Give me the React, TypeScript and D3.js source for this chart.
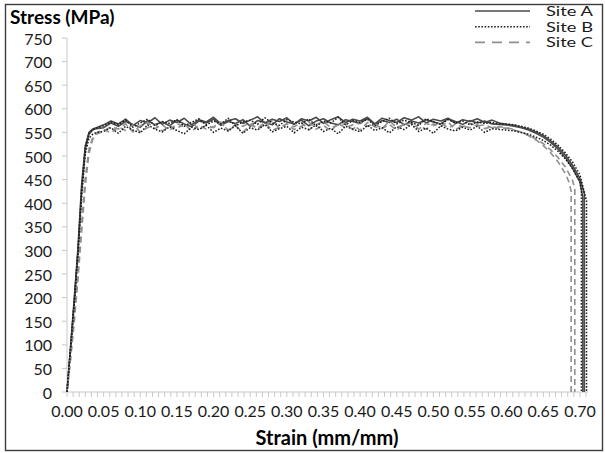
import React from "react";
import * as d3 from "d3";

const strainGrid = [
  0, 0.005, 0.01, 0.015, 0.02, 0.025, 0.03, 0.035, 0.04,
  0.05, 0.06, 0.07, 0.08, 0.09, 0.1, 0.11, 0.12, 0.13, 0.14,
  0.15, 0.16, 0.17, 0.18, 0.19, 0.2, 0.21, 0.22, 0.23, 0.24,
  0.25, 0.26, 0.27, 0.28, 0.29, 0.3, 0.31, 0.32, 0.33, 0.34,
  0.35, 0.36, 0.37, 0.38, 0.39, 0.4, 0.41, 0.42, 0.43, 0.44,
  0.45, 0.46, 0.47, 0.48, 0.49, 0.5, 0.51, 0.52, 0.53, 0.54,
  0.55, 0.56, 0.57, 0.58, 0.59,
  0.6, 0.61, 0.62, 0.63, 0.64, 0.65, 0.66, 0.67, 0.68,
];

const stressA1 = [
  0, 98, 200, 305, 440, 522, 550, 557, 560,
  566, 574, 568, 578, 565, 575, 570, 581, 567, 576,
  571, 580, 566, 577, 572, 582, 568, 575, 579, 569,
  576, 583, 570, 578, 573, 581, 567, 579, 574, 582,
  569, 577, 583, 571, 578, 574, 582, 568, 580, 575,
  571, 581, 576, 583, 570, 578, 574, 580, 569, 577,
  573, 579, 571, 576, 570,
  567, 565, 561, 557, 551, 543, 532, 519, 502,
];
const tailStrainA1 = [0.69, 0.7, 0.706, 0.706];
const tailStressA1 = [480, 452, 420, 0];

const stressA2 = [
  0, 95, 192, 298, 425, 515, 546, 555, 558,
  560, 570, 563, 573, 567, 561, 575, 566, 572, 564,
  576, 568, 562, 574, 570, 578, 565, 573, 569, 577,
  563, 575, 571, 566, 579, 572, 568, 576, 564, 574,
  579, 570, 566, 577, 573, 569, 580, 567, 575, 571,
  578, 566, 574, 570, 577, 572, 568, 579, 573, 567,
  575, 570, 574, 568, 567,
  566, 563, 560, 555, 548, 540, 529, 515, 497,
];
const tailStrainA2 = [0.69, 0.7, 0.704, 0.704];
const tailStressA2 = [474, 445, 412, 0];

const stressB1 = [
  0, 92, 186, 290, 415, 505, 538, 546, 550,
  552, 560, 548, 563, 555, 549, 566, 557, 551, 562,
  554, 547, 561, 556, 565, 550, 559, 553, 564, 548,
  560, 555, 567, 551, 558, 563, 549, 561, 556, 566,
  552, 559, 547, 563, 557, 551, 565, 554, 560, 549,
  562, 556, 567, 552, 559, 548, 564, 557, 553, 561,
  555, 563, 550, 558, 556,
  555, 553, 550, 546, 540, 533, 523, 510, 494,
];
const tailStrainB1 = [0.69, 0.7, 0.702, 0.702];
const tailStressB1 = [473, 445, 425, 0];

const stressB2 = [
  0, 96, 195, 300, 432, 518, 548, 556, 559,
  564, 572, 567, 576, 561, 570, 578, 565, 573, 569,
  577, 563, 571, 579, 566, 574, 568, 580, 564, 572,
  576, 567, 581, 570, 565, 577, 572, 568, 579, 563,
  574, 570, 582, 566, 575, 571, 578, 564, 573, 580,
  568, 576, 571, 565, 579, 573, 567, 577, 570, 574,
  566, 572, 569, 571, 568,
  568, 566, 563, 559, 553, 546, 536, 523, 507,
];
const tailStrainB2 = [0.69, 0.7, 0.709, 0.709];
const tailStressB2 = [487, 460, 405, 0];

const stressC1 = [
  0, 72, 150, 240, 340, 438, 505, 535, 546,
  553, 562, 557, 568, 551, 564, 571, 558, 566, 554,
  569, 561, 573, 556, 565, 560, 572, 554, 567, 563,
  570, 557, 566, 574, 559, 568, 562, 571, 555, 567,
  573, 560, 565, 569, 556, 572, 563, 568, 558, 574,
  561, 566, 570, 557, 569, 564, 572, 559, 567, 562,
  569, 564, 566, 560, 562,
  560, 556, 550, 543, 534, 522, 507, 488, 463,
];
const tailStrainC1 = [0.685, 0.688, 0.688];
const tailStressC1 = [445, 425, 0];

const stressC2 = [
  0, 75, 158, 252, 358, 455, 515, 538, 549,
  556, 549, 562, 554, 566, 551, 560, 567, 553, 563,
  558, 569, 552, 565, 557, 562, 570, 555, 564, 550,
  566, 559, 571, 554, 561, 568, 556, 563, 572, 557,
  565, 553, 569, 560, 566, 555, 571, 562, 558, 567,
  554, 570, 561, 565, 557, 568, 563, 572, 556, 564,
  560, 566, 558, 562, 559,
  559, 555, 550, 544, 536, 526, 513, 497, 477,
];
const tailStrainC2 = [0.69, 0.693, 0.693];
const tailStressC2 = [448, 430, 0];

const siteNames = ["Site A", "Site B", "Site C"];
const yTicks = [0, 50, 100, 150, 200, 250, 300, 350, 400, 450, 500, 550, 600, 650, 700, 750];
const xTickLabels = [0, 0.05, 0.1, 0.15, 0.2, 0.25, 0.3, 0.35, 0.4, 0.45, 0.5, 0.55, 0.6, 0.65, 0.7];

const specimens = [
  { site: 0, stress: stressA2, ts: tailStrainA2, tv: tailStressA2 },
  { site: 0, stress: stressA1, ts: tailStrainA1, tv: tailStressA1 },
  { site: 2, stress: stressC1, ts: tailStrainC1, tv: tailStressC1 },
  { site: 2, stress: stressC2, ts: tailStrainC2, tv: tailStressC2 },
  { site: 1, stress: stressB1, ts: tailStrainB1, tv: tailStressB1 },
  { site: 1, stress: stressB2, ts: tailStrainB2, tv: tailStressB2 },
];

const styles = [
  { stroke: "#4a4a4a", dash: "none", width: 1.6 },
  { stroke: "#1e1e1e", dash: "1.6,1.6", width: 1.5 },
  { stroke: "#8f8f8f", dash: "6,4", width: 1.6 },
];

const FONT = "Lato, 'Open Sans', sans-serif";

export default function App() {
  const x = d3.scaleLinear().domain([0, 0.711]).range([67, 588]);
  const y = d3.scaleLinear().domain([0, 750]).range([392, 38]);
  const line = d3
    .line<[number, number]>()
    .x((d) => x(d[0]))
    .y((d) => y(d[1]));

  const minorTicks = d3.range(0, 86).map((i) => (i * 0.05) / 6).filter((v) => v <= 0.7115);

  return (
    <svg
      width={605}
      height={453}
      style={{ position: "absolute", left: 0, top: 0, background: "#fff" }}
      fontFamily={FONT}
    >
      <rect x={5.5} y={4.5} width={597} height={446} fill="#fff" stroke="#3c3c3c" strokeWidth={1.4} />

      {/* axes */}
      <line x1={x(0)} x2={x(0)} y1={y(750)} y2={y(0)} stroke="#c8c8c8" strokeWidth={1} />
      <line x1={x(0)} x2={x(0.711)} y1={y(0)} y2={y(0)} stroke="#c8c8c8" strokeWidth={1} />
      {yTicks.map((t) => (
        <g key={"y" + t}>
          <line x1={x(0) - 5} x2={x(0)} y1={y(t)} y2={y(t)} stroke="#c8c8c8" />
          <text x={52} y={y(t)} textAnchor="end" dominantBaseline="central" fontSize={16} fill="#1a1a1a">
            {t}
          </text>
        </g>
      ))}
      {minorTicks.map((t, i) => (
        <line key={"m" + i} x1={x(t)} x2={x(t)} y1={y(0)} y2={y(0) + 5} stroke="#c8c8c8" />
      ))}
      {xTickLabels.map((t) => (
        <text key={"x" + t} x={x(t)} y={410} textAnchor="middle" dominantBaseline="central" fontSize={16} fill="#1a1a1a">
          {t.toFixed(2)}
        </text>
      ))}

      {/* curves */}
      {specimens.map((s, i) => {
        const pts: [number, number][] = strainGrid.map((e, k) => [e, s.stress[k]] as [number, number]);
        s.ts.forEach((e, k) => pts.push([e, s.tv[k]]));
        const st = styles[s.site];
        return (
          <path
            key={"c" + i}
            d={line(pts) || ""}
            fill="none"
            stroke={st.stroke}
            strokeWidth={st.width}
            strokeDasharray={st.dash}
            strokeLinejoin="round"
          />
        );
      })}

      {/* titles */}
      <text x={10} y={16} dominantBaseline="central" fontSize={19} fontWeight="bold" fill="#000">
        Stress (MPa)
      </text>
      <text x={327} y={437} textAnchor="middle" dominantBaseline="central" fontSize={20} fontWeight="bold" fill="#000">
        Strain (mm/mm)
      </text>

      {/* legend */}
      {siteNames.map((n, i) => (
        <g key={n}>
          <line
            x1={475}
            x2={530}
            y1={11 + i * 15.7}
            y2={11 + i * 15.7}
            stroke={styles[i].stroke}
            strokeWidth={styles[i].width}
            strokeDasharray={i === 2 ? "10,7" : styles[i].dash}
          />
          <text
            x={546}
            y={11 + i * 15.7}
            dominantBaseline="central"
            fontSize={13}
            fill="#1a1a1a"
            textLength={47}
            lengthAdjust="spacingAndGlyphs"
          >
            {n}
          </text>
        </g>
      ))}
    </svg>
  );
}
